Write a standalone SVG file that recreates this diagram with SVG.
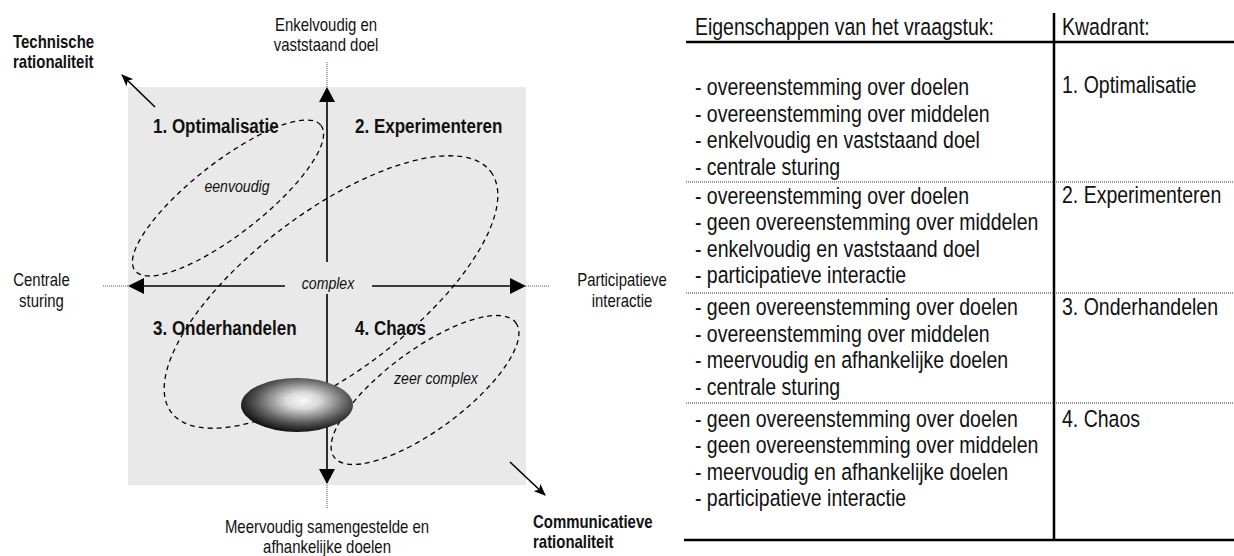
<svg xmlns="http://www.w3.org/2000/svg" width="1234" height="556" viewBox="0 0 1234 556">
  <style>
    text { font-family: "Liberation Sans", Arial, sans-serif; fill: #111; }
    .lbl { font-size: 18px; }
    .lblb { font-size: 18px; font-weight: bold; }
    .quad { font-size: 20.5px; font-weight: bold; }
    .it { font-size: 17px; font-style: italic; }
    .tbl { font-size: 23.5px; }
    .mid { text-anchor: middle; }
    .axis { stroke: #000; stroke-width: 1.6; fill: none; }
    .ext { stroke: #555; stroke-width: 1; stroke-dasharray: 1 1; fill: none; }
    .loop { stroke: #000; stroke-width: 1.3; stroke-dasharray: 5 4; fill: none; }
    .rule { stroke: #000; stroke-width: 2.5; }
    .sep { stroke: #333; stroke-width: 1; stroke-dasharray: 1 1; }
  </style>
  <defs>
    <radialGradient id="blob" cx="0.55" cy="0.42" r="0.6">
      <stop offset="0" stop-color="#fafafa"/>
      <stop offset="0.25" stop-color="#d9d9d9"/>
      <stop offset="0.7" stop-color="#555"/>
      <stop offset="1" stop-color="#0a0a0a"/>
    </radialGradient>
    <marker id="tip" viewBox="0 0 12 10" refX="11" refY="5" markerWidth="12" markerHeight="10" markerUnits="userSpaceOnUse" orient="auto">
      <path d="M0,0 L12,5 L0,10 L3,5 Z" fill="#000"/>
    </marker>
  </defs>

  <!-- quadrant field -->
  <rect id="field" x="128" y="87" width="398" height="398" fill="#e9e9e9"/>

  <!-- connectors: axes, their dotted extensions and the diagonal arrows -->
  <g id="connectors">
    <line class="ext" x1="327" y1="62" x2="327" y2="87"/>
    <line class="ext" x1="327" y1="485" x2="327" y2="508"/>
    <line class="ext" x1="103" y1="286" x2="128" y2="286"/>
    <line class="ext" x1="526" y1="286" x2="550" y2="286"/>
    <line class="axis" x1="327" y1="100" x2="327" y2="262"/>
    <line class="axis" x1="327" y1="294" x2="327" y2="470"/>
    <line class="axis" x1="142" y1="286" x2="285" y2="286"/>
    <line class="axis" x1="372" y1="286" x2="512" y2="286"/>
    <path d="M327,87 L335,102 L319,102 Z" fill="#000"/>
    <path d="M327,484 L335,469 L319,469 Z" fill="#000"/>
    <path d="M128,286 L144,278 L144,294 Z" fill="#000"/>
    <path d="M526,286 L510,278 L510,294 Z" fill="#000"/>
    <line class="axis" x1="155" y1="107" x2="122" y2="75" marker-end="url(#tip)"/>
    <line class="axis" x1="510" y1="462" x2="545" y2="495" marker-end="url(#tip)"/>
  </g>

  <!-- dashed complexity regions -->
  <g id="regions">
    <ellipse id="region-simple" class="loop" cx="228" cy="198" rx="118" ry="36" transform="rotate(-38 228 198)"/>
    <ellipse id="region-complex" class="loop" cx="331" cy="292" rx="200" ry="80" transform="rotate(-37 331 292)"/>
    <ellipse id="region-very-complex" class="loop" cx="425" cy="390" rx="113" ry="40" transform="rotate(-36.5 425 390)"/>
  </g>

  <!-- shaded core -->
  <ellipse id="core" cx="297" cy="405" rx="56" ry="27" fill="url(#blob)"/>

  <!-- diagram labels (set in a narrowed face) -->
  <g id="labels" transform="scale(0.83 1)">
    <g id="technische">
      <text class="lblb" x="15.7" y="48">Technische</text>
      <text class="lblb" x="15.7" y="68">rationaliteit</text>
    </g>
    <g id="doel-top">
      <text class="lbl mid" x="392.8" y="31">Enkelvoudig en</text>
      <text class="lbl mid" x="392.8" y="51">vaststaand doel</text>
    </g>
    <g id="q1"><text class="quad" x="184.3" y="133">1. Optimalisatie</text></g>
    <g id="q2"><text class="quad" x="427.7" y="133">2. Experimenteren</text></g>
    <g id="q3"><text class="quad" x="184.3" y="335">3. Onderhandelen</text></g>
    <g id="q4"><text class="quad" x="427.7" y="335">4. Chaos</text></g>
    <g id="lbl-simple"><text class="it mid" x="285.5" y="192">eenvoudig</text></g>
    <g id="lbl-complex"><text class="it mid" x="395.2" y="289">complex</text></g>
    <g id="lbl-very-complex"><text class="it mid" x="525.3" y="384">zeer complex</text></g>
    <g id="sturing">
      <text class="lbl mid" x="50" y="286">Centrale</text>
      <text class="lbl mid" x="50" y="307">sturing</text>
    </g>
    <g id="interactie">
      <text class="lbl mid" x="749.4" y="286">Participatieve</text>
      <text class="lbl mid" x="749.4" y="307">interactie</text>
    </g>
    <g id="doel-bottom">
      <text class="lbl mid" x="394" y="533">Meervoudig samengestelde en</text>
      <text class="lbl mid" x="394" y="553">afhankelijke doelen</text>
    </g>
    <g id="communicatief">
      <text class="lblb" x="642.2" y="528">Communicatieve</text>
      <text class="lblb" x="642.2" y="548">rationaliteit</text>
    </g>
  </g>

  <!-- table rules -->
  <g id="table-rules">
    <line class="rule" x1="686" y1="42" x2="1234" y2="42"/>
    <line class="rule" x1="1054" y1="13" x2="1054" y2="541"/>
    <line class="rule" x1="684" y1="540" x2="1234" y2="540"/>
    <line class="sep" x1="686" y1="182" x2="1234" y2="182"/>
    <line class="sep" x1="686" y1="293" x2="1234" y2="293"/>
    <line class="sep" x1="686" y1="403" x2="1234" y2="403"/>
  </g>

  <!-- table text -->
  <g id="table-text" transform="scale(0.83 1)">
    <g id="head">
      <text class="tbl" x="837.3" y="35">Eigenschappen van het vraagstuk:</text>
      <text class="tbl" x="1279.5" y="35">Kwadrant:</text>
    </g>
    <g id="row1">
      <text class="tbl" x="837.3" y="95">- overeenstemming over doelen</text>
      <text class="tbl" x="837.3" y="122">- overeenstemming over middelen</text>
      <text class="tbl" x="837.3" y="148">- enkelvoudig en vaststaand doel</text>
      <text class="tbl" x="837.3" y="175">- centrale sturing</text>
      <text class="tbl" x="1279.5" y="93">1. Optimalisatie</text>
    </g>
    <g id="row2">
      <text class="tbl" x="837.3" y="204">- overeenstemming over doelen</text>
      <text class="tbl" x="837.3" y="230">- geen overeenstemming over middelen</text>
      <text class="tbl" x="837.3" y="257">- enkelvoudig en vaststaand doel</text>
      <text class="tbl" x="837.3" y="283">- participatieve interactie</text>
      <text class="tbl" x="1279.5" y="203">2. Experimenteren</text>
    </g>
    <g id="row3">
      <text class="tbl" x="837.3" y="315">- geen overeenstemming over doelen</text>
      <text class="tbl" x="837.3" y="342">- overeenstemming over middelen</text>
      <text class="tbl" x="837.3" y="368">- meervoudig en afhankelijke doelen</text>
      <text class="tbl" x="837.3" y="395">- centrale sturing</text>
      <text class="tbl" x="1279.5" y="315">3. Onderhandelen</text>
    </g>
    <g id="row4">
      <text class="tbl" x="837.3" y="427">- geen overeenstemming over doelen</text>
      <text class="tbl" x="837.3" y="453">- geen overeenstemming over middelen</text>
      <text class="tbl" x="837.3" y="480">- meervoudig en afhankelijke doelen</text>
      <text class="tbl" x="837.3" y="506">- participatieve interactie</text>
      <text class="tbl" x="1279.5" y="427">4. Chaos</text>
    </g>
  </g>
</svg>
